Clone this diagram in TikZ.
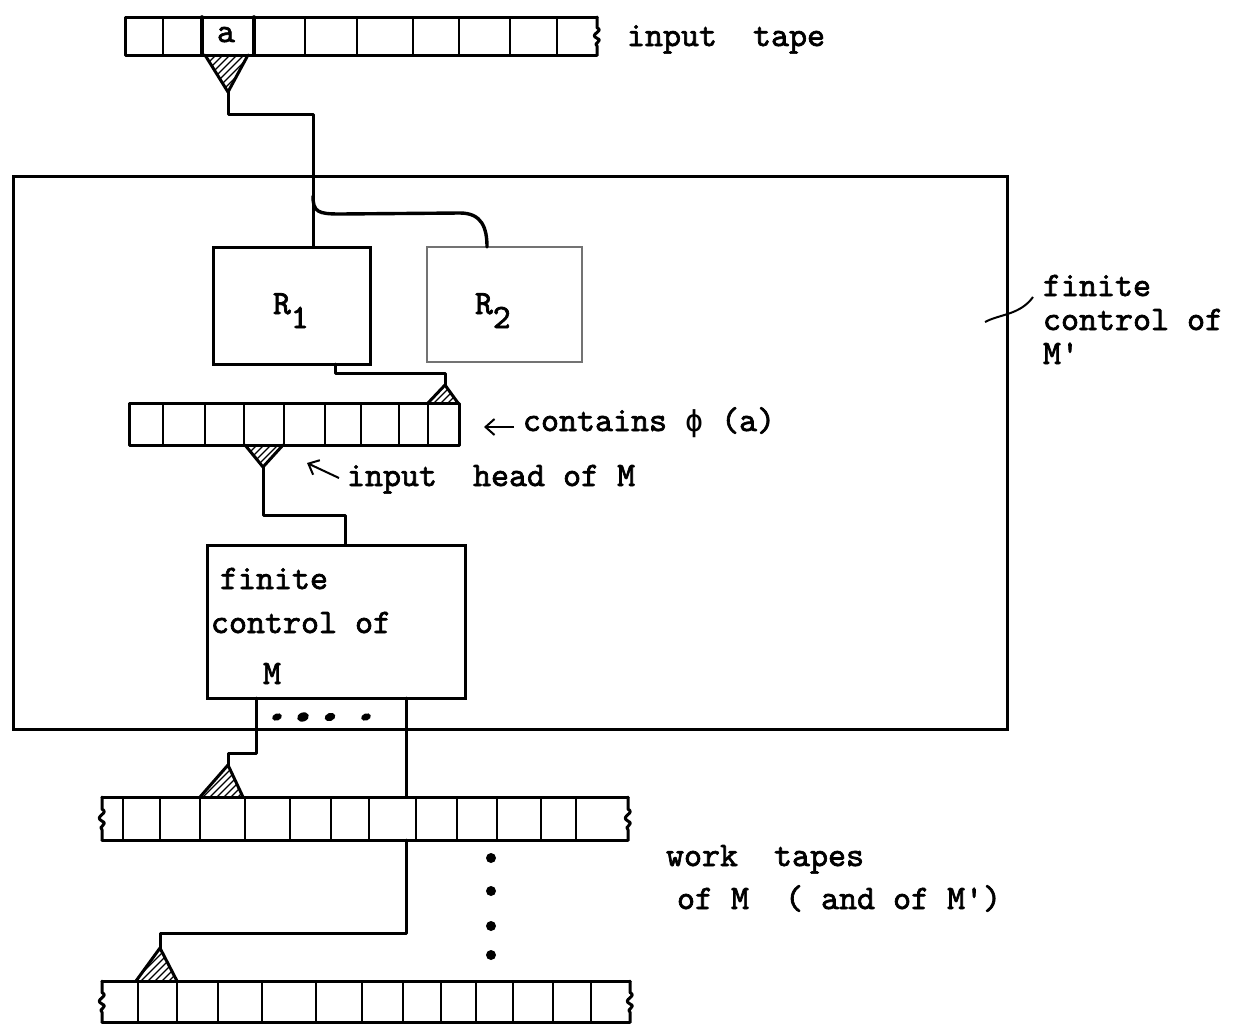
\documentclass[tikz,border=0pt]{standalone}
\usepackage{fontspec}
\newfontfamily\tw{lmmono10-regular.otf}[FakeBold=2]
\newfontfamily\dvm{DejaVu Sans Mono}
\usetikzlibrary{arrows.meta}
\tikzset{
  ln/.style={line width=3pt, line join=round, line cap=round},
  divln/.style={line width=2.3pt},
  hatchln/.style={line width=1.3pt},
  lbl/.style={inner sep=0pt, outer sep=0pt, font=\tw\fontsize{34.3}{34}\selectfont},
  rlbl/.style={inner sep=0pt, outer sep=0pt, font=\tw\fontsize{34}{34}\selectfont},
  box/.style={draw, line width=3pt, inner sep=0pt, outer sep=0pt},
  dotmark/.style={fill=black, draw=none},
}
\newcommand\myphi{{\dvm\fontsize{30}{30}\selectfont ϕ}}
% wavy tape end: x, top, bottom
\newcommand\wavyend[3]{%
  \draw[ln] (#1,#2) -- ({#1},{#2+0.28*(#3-#2)})
    .. controls ({#1+8},{#2+0.38*(#3-#2)}) and ({#1-9},{#2+0.45*(#3-#2)}) .. ({#1},{#2+0.56*(#3-#2)})
    .. controls ({#1+7},{#2+0.63*(#3-#2)}) and ({#1-5},{#2+0.7*(#3-#2)}) .. ({#1},{#2+0.76*(#3-#2)})
    -- (#1,#3);}
% hatched tape head: base x1, base x2, base y, apex name
\newcommand\tapehead[4]{%
  \begin{scope}
    \clip (#1,#3) -- (#2,#3) -- (#4) -- cycle;
    \foreach \k in {-70,-63,...,70}
      \draw[hatchln] ([shift={(\k-40,40)}]#4) -- ([shift={(\k+40,-40)}]#4);
  \end{scope}
  \draw[ln] (#1,#3) -- (#4) -- (#2,#3);}
\begin{document}
\begin{tikzpicture}[x=1pt,y=-1pt]
\useasboundingbox (0,0) rectangle (1240,1026);

% ---------- input tape ----------
\draw[ln] (597,17) -- (125,17) -- (125,55) -- (597,55);
\wavyend{597}{17}{55}
\foreach \x in {163,305,357,413,459,510,557} \draw[divln] (\x,17) -- (\x,55);
\draw[ln, line width=3.6pt] (202,17) -- (202,55) (254,17) -- (254,55);
\node[lbl, anchor=base] (cella) at (226,42) {a};
\coordinate (ihA) at (228,92);
\tapehead{205}{248}{55}{ihA}
\node[lbl, anchor=base west] (tinput) at (627,46) {input\ \ tape};

% ---------- finite control of M' ----------
\node[box, minimum width=994pt, minimum height=553pt] (FCM) at (510,452.5) {};
\node[lbl, anchor=base west] (tfc1) at (1043,296) {finite};
\node[lbl, anchor=base west] (tfc2) at (1043,330) {control of};
\node[lbl, anchor=base west] (tfc3) at (1043,364) {M\textquotesingle};
\coordinate (tk1) at (985,322);
\coordinate (tk2) at (1033,297);
\draw[line width=2pt] (tk1) .. controls (1000,314) and (1020,315) .. (tk2);

% ---------- R1, R2 ----------
\node[box, minimum width=157pt, minimum height=117pt] (R1) at (291.5,305.5) {};
\node[box, draw=black!55, line width=1.8pt, minimum width=155pt, minimum height=115pt] (R2) at (504.5,304.5) {};
\node[rlbl, anchor=base west] (tR1) at (273,314) {R\raisebox{-14pt}{1}};
\node[rlbl, anchor=base west] (tR2) at (475,314) {R\raisebox{-14pt}{2}};

\coordinate (j1) at (313,114);
\draw[ln] (ihA) |- (j1) -- (R1.north -| j1);
\coordinate (br) at (313,196);
\draw[ln, line width=3.4pt] (br) .. controls (313,212) and (318,214) .. (340,214)
  -- (460,213) .. controls (482,213) and (487,228) .. ([xshift=-17.5pt]R2.north);

% ---------- middle tape ----------
\draw[ln] (129,403) rectangle (459,445);
\foreach \x in {163,205,244,284,325,361,399,428} \draw[divln] (\x,403) -- (\x,445);
\coordinate (mhA) at (445,385);
\tapehead{428}{458}{403}{mhA}
\coordinate (j2) at (445,373);
\draw[ln] ([xshift=43.5pt]R1.south) |- (j2) -- (mhA);
\coordinate (mlA) at (263,467);
\tapehead{245}{283}{445}{mlA}

\coordinate (ar1s) at (514,427);
\coordinate (ar1e) at (484,427);
\draw[line width=2pt, -{Straight Barb[length=9pt,width=16pt]}] (ar1s) -- (ar1e);
\node[lbl, anchor=base west] (tcont) at (523,431) {contains \myphi\ (a)};
\coordinate (ar2s) at (339,478);
\coordinate (ar2e) at (307,463);
\draw[line width=2pt, -{Straight Barb[length=9pt,width=16pt]}] (ar2s) -- (ar2e);
\node[lbl, anchor=base west] (thead) at (347,486) {input\ \ head of M};

% ---------- finite control of M ----------
\node[box, minimum width=258pt, minimum height=153pt] (FC) at (336,621.5) {};
\node[lbl, anchor=base west] (tfm1) at (220,589) {finite};
\node[lbl, anchor=base west] (tfm2) at (211,633) {control of};
\node[lbl, anchor=base west] (tfm3) at (263,684) {M};
\coordinate (j3) at (345,515);
\draw[ln] (mlA) |- (j3) -- (FC.north -| j3);

\foreach \x/\r in {277/3.5,303/4.5,330/4,366/3.5} \fill[dotmark, rotate around={20:(\x,717)}] (\x,717) ellipse ({\r+1.5} and \r);

% ---------- work tapes ----------
% upper work tape
\draw[ln] (102,797) -- (628,797) (102,840) -- (628,840);
\wavyend{102}{797}{840}
\wavyend{628}{797}{840}
\foreach \x in {123,160,200,245,290,331,369,416,457,497,541,576} \draw[divln] (\x,797) -- (\x,840);
\coordinate (w1A) at (228,765);
\tapehead{200}{243}{797}{w1A}
\coordinate (j4) at (228,753);
\draw[ln] ([xshift=-80pt]FC.south) |- (j4) -- (w1A);
\coordinate (j5) at (406,797);
\draw[ln] ([xshift=70pt]FC.south) -- (j5);

% lower work tape
\draw[ln] (102,981) -- (630,981) (102,1022) -- (630,1022);
\wavyend{102}{981}{1022}
\wavyend{630}{981}{1022}
\foreach \x in {138,177,218,262,316,362,403,441,476,513,553,591} \draw[divln] (\x,981) -- (\x,1022);
\coordinate (w2A) at (160,948);
\tapehead{136}{177}{981}{w2A}
\coordinate (j6) at (406,840);
\coordinate (j7) at (160,933);
\draw[ln] (j6) |- (j7) -- (w2A);

\foreach \y in {858,891,926,955} \fill[dotmark] (491,\y) circle (5pt);

\node[lbl, anchor=base west] (twork1) at (666,866) {work\ \ tapes};
\node[lbl, anchor=base west] (twork2) at (677,909) {of M\ \ ( and of M\textquotesingle)};
\end{tikzpicture}
\end{document}
